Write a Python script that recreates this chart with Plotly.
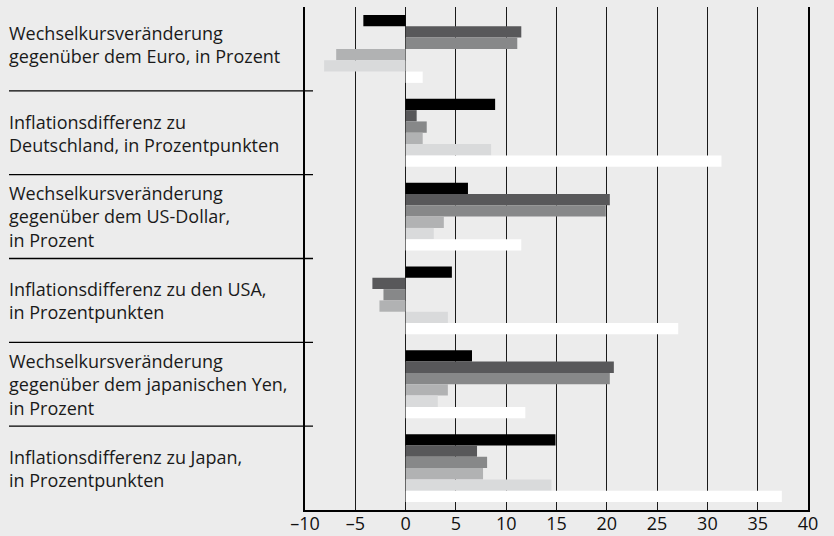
import plotly.graph_objects as go

categories = [
    "Wechselkursveränderung<br>gegenüber dem Euro, in Prozent",
    "Inflationsdifferenz zu<br>Deutschland, in Prozentpunkten",
    "Wechselkursveränderung<br>gegenüber dem US-Dollar,<br>in Prozent",
    "Inflationsdifferenz zu den USA,<br>in Prozentpunkten",
    "Wechselkursveränderung<br>gegenüber dem japanischen Yen,<br>in Prozent",
    "Inflationsdifferenz zu Japan,<br>in Prozentpunkten",
]

series_names = ["Reihe 1", "Reihe 2", "Reihe 3", "Reihe 4", "Reihe 5", "Reihe 6"]

s1 = [-4.2, 8.9, 6.2, 4.6, 6.6, 14.9]
s2 = [11.5, 1.1, 20.3, -3.3, 20.7, 7.1]
s3 = [11.1, 2.1, 19.9, -2.2, 20.3, 8.1]
s4 = [-6.9, 1.7, 3.8, -2.6, 4.2, 7.7]
s5 = [-8.1, 8.5, 2.8, 4.2, 3.2, 14.5]
s6 = [1.7, 31.4, 11.5, 27.1, 11.9, 37.4]

tick_vals = [-10, -5, 0, 5, 10, 15, 20, 25, 30, 35, 40]
tick_text = ["–10", "–5", "0", "5", "10", "15", "20", "25", "30", "35", "40"]

colors = ["#000000", "#58585a", "#878889", "#b1b2b3", "#d9dadb", "#ffffff"]
series = [s1, s2, s3, s4, s5, s6]

cat_ids = list(range(len(categories)))

fig = go.Figure()
for name, vals, col in zip(series_names, series, colors):
    fig.add_trace(go.Bar(
        x=vals, y=cat_ids, orientation="h", name=name,
        marker=dict(color=col, line=dict(width=0)),
        showlegend=False, hoverinfo="x+name",
    ))

W, H = 834, 536
ml, mr, mt, mb = 305, 26, 7, 26
pw = W - ml - mr

fig.update_layout(
    width=W, height=H,
    margin=dict(l=ml, r=mr, t=mt, b=mb, pad=0, autoexpand=False),
    paper_bgcolor="#ececec", plot_bgcolor="#ececec",
    barmode="group", bargap=0.19, bargroupgap=0,
    font=dict(family="Open Sans", color="#1a1a1a", size=16),
    xaxis=dict(
        range=[-10, 40], tickvals=tick_vals, ticktext=tick_text,
        showgrid=True, gridcolor="#1a1a1a", gridwidth=1.4,
        zeroline=False, showline=True, linecolor="#000000", linewidth=1.5,
        ticks="", tickfont=dict(size=18, color="#111111"),
        ticklabelstandoff=-3, automargin=False,
    ),
    yaxis=dict(
        range=[5.5, -0.5], showticklabels=False, showgrid=False,
        zeroline=False, showline=True, linecolor="#000000", linewidth=1.5,
        mirror=True, ticks="", automargin=False,
    ),
)

x_left = -(ml - 9) / pw
x_right = (313 - ml) / pw
for b in [0.5, 1.5, 2.5, 3.5, 4.5]:
    fig.add_shape(type="line", xref="paper", yref="y",
                  x0=x_left, x1=x_right, y0=b, y1=b,
                  line=dict(color="#000000", width=1.3))

yshifts = [4, -1, 0, 0, 0, 0]
for i, cat in enumerate(categories):
    fig.add_annotation(
        xref="paper", yref="y", x=-(ml - 7) / pw, y=i,
        text=cat, showarrow=False, xanchor="left", yanchor="middle",
        align="left", yshift=yshifts[i],
        font=dict(size=18, color="#1a1a1a", family="Open Sans"),
    )

fig.write_html(
    "out.html",
    config={"displayModeBar": False},
    post_script="document.body.style.margin='0';document.body.style.overflow='hidden';",
)
